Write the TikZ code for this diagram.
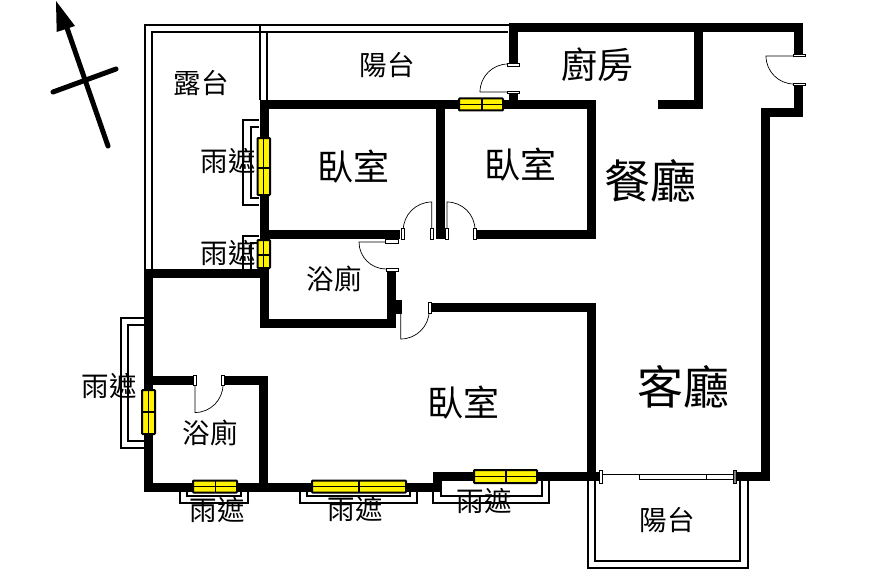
\documentclass[tikz,border=0pt]{standalone}
\usepackage{fontspec}
\newfontfamily\cjk{Noto Sans CJK TC}
\tikzset{
  wall/.style={line width=9pt, line cap=butt, miter limit=10},
  rail/.style={line width=2pt},
  thinline/.style={line width=.7pt},
  win/.style={fill=yellow, draw=black, line width=2pt, rounded corners=.8pt},
  windiv/.style={line width=1.2pt},
  jamb/.style={fill=white, draw=black, line width=.7pt},
  compass/.style={line width=5pt, line cap=round},
  big/.style={font=\cjk\fontsize{46}{46}\selectfont, inner sep=0pt},
  mid/.style={font=\cjk\fontsize{36}{36}\selectfont, inner sep=0pt},
  small/.style={font=\cjk\fontsize{27.5}{28}\selectfont, inner sep=0pt}
}
\begin{document}
\begin{tikzpicture}[x=1pt, y=-1pt]
\useasboundingbox (0,0) rectangle (887,578);
% balconies
\draw[rail] (510,25)--(145,25)--(145,270);
\draw[rail] (508,32)--(152,32)--(152,270);
\draw[rail] (260,25)--(260,100);
\draw[rail] (267,32)--(267,100);
\draw[rail] (588,481)--(588,568)--(748,568)--(748,481);
\draw[rail] (595,481)--(595,561)--(740,561)--(740,481);
% shades
\draw[rail] (259,120)--(243,120)--(243,205)--(259,205);
\draw[rail] (259,127)--(251,127)--(251,198)--(259,198);
\draw[rail] (259,236)--(243,236)--(243,270);
\draw[rail] (259,243)--(251,243)--(251,270);
\draw[rail] (144,318)--(121,318)--(121,448)--(144,448);
\draw[rail] (144,325)--(128,325)--(128,441)--(144,441);
\draw[rail] (180,490)--(180,503)--(248,503)--(248,490);
\draw[rail] (187,490)--(187,496)--(241,496)--(241,490);
\draw[rail] (300,490)--(300,503)--(417,503)--(417,490);
\draw[rail] (307,490)--(307,496)--(410,496)--(410,490);
\draw[rail] (433,490)--(433,503)--(549,503)--(549,481);
\draw[rail] (441,490)--(441,496)--(542,496)--(542,481);
% walls
\draw[wall] (513,65)--(513,28)--(798.5,28)--(798.5,55);
\draw[wall] (798.5,85)--(798.5,113)--(765.5,113)--(765.5,476.5)--(737,476.5);
\draw[wall] (658,104.5)--(698.5,104.5)--(698.5,28);
\draw[wall] (513,92)--(513,100);
\draw[wall] (264,104.5)--(591.5,104.5)--(591.5,234.5)--(475,234.5);
\draw[wall] (400,234.5)--(264,234.5);
\draw[wall] (440,104.5)--(440,239);
\draw[wall] (264,100)--(264,323)--(391.5,323)--(391.5,270);
\draw[wall] (430,307)--(591.5,307)--(591.5,476.5);
\draw[wall] (600,476.5)--(437.5,476.5)--(437.5,487)--(148.5,487)--(148.5,273)--(264,273);
\draw[wall] (148.5,380.5)--(194,380.5);
\draw[wall] (223,380.5)--(263.5,380.5)--(263.5,491);
% windows
\draw[win] (257.5,138) rectangle (270,195);
\draw[windiv] (263.7,138)--(263.7,195) (257.5,168)--(270,168);
\draw[win] (257.5,240) rectangle (270,268);
\draw[windiv] (263.7,240)--(263.7,268) (257.5,255)--(270,255);
\draw[win] (142,390) rectangle (155,434);
\draw[windiv] (148.5,390)--(148.5,434) (142,412)--(155,412);
\draw[win] (459,98.5) rectangle (503,110.5);
\draw[windiv] (459,104.5)--(503,104.5) (482,98.5)--(482,110.5);
\draw[win] (193,480.5) rectangle (237,492.5);
\draw[windiv] (193,486.5)--(237,486.5) (215.5,480.5)--(215.5,492.5);
\draw[win] (312,480.5) rectangle (406,492.5);
\draw[windiv] (312,486.5)--(406,486.5) (359,480.5)--(359,492.5);
\draw[win] (474,470) rectangle (537,483);
\draw[windiv] (474,476.5)--(537,476.5) (506,470)--(506,483);
% doors
\draw[thinline] (431.7,235)--(431.7,202) arc[start angle=-90, end angle=-180, radius=28.5];
\draw[thinline] (447,235)--(447,202) arc[start angle=-90, end angle=0, radius=28];
\draw[thinline] (397,242)--(359,242) arc[start angle=180, end angle=90, radius=27];
\draw[thinline] (400.7,307)--(400.7,339) arc[start angle=90, end angle=0, radius=28.5];
\draw[thinline] (195,385)--(195,412.5) arc[start angle=90, end angle=0, radius=28];
\draw[thinline] (510,92)--(480,92) arc[start angle=180, end angle=270, radius=28];
\draw[thinline] (795,56)--(766,56) arc[start angle=180, end angle=90, radius=28];
% jambs
\draw[jamb] (401.5,228) rectangle (404.5,239);
\draw[jamb] (430.2,228) rectangle (433.2,239);
\draw[jamb] (445.5,228) rectangle (448.5,239);
\draw[jamb] (473.5,228) rectangle (476.5,239);
\draw[jamb] (385,239.5) rectangle (398,243);
\draw[jamb] (386,268.5) rectangle (398,271);
\draw[jamb, fill=black] (396,300) rectangle (401.5,313);
\draw[jamb] (428.5,302) rectangle (431,313);
\draw[jamb] (193.5,375) rectangle (196.5,385);
\draw[jamb] (221.5,375) rectangle (224.5,385);
\draw[jamb] (507,63.5) rectangle (519,66);
\draw[jamb] (507,91) rectangle (519,93.5);
\draw[jamb] (793,54) rectangle (805,56.5);
\draw[jamb] (793,83) rectangle (805,85.5);
% sliding door
\draw[thinline] (601,474)--(733,474) (706,479)--(733,479);
\draw[thinline, fill=white] (639,474) rectangle (706,479);
\draw[jamb] (599.5,470) rectangle (602,483);
\draw[jamb, fill=gray] (733.5,470) rectangle (736.5,483);
% compass
\draw[compass] (108,146)--(67,28);
\fill (56,1)--(75,26)--(56.7,32)--cycle;
\draw[compass] (53,92)--(116,69);
% labels
\node[big] (dining) at (650,181) {餐廳};
\node[big] (living) at (683,387) {客廳};
\node[mid] (bedroomA) at (353,167) {臥室};
\node[mid] (bedroomB) at (520,165) {臥室};
\node[mid] (bedroomC) at (463,403) {臥室};
\node[mid] (kitchen) at (597,65) {廚房};
\node[small] (balconyA) at (387,65) {陽台};
\node[small] (balconyB) at (667,520) {陽台};
\node[small] (terrace) at (201,83) {露台};
\node[small] (bathA) at (334,279) {浴廁};
\node[small] (bathB) at (210,433) {浴廁};
\node[small] (shadeA) at (228,161) {雨遮};
\node[small] (shadeB) at (228,253) {雨遮};
\node[small] (shadeC) at (109,386) {雨遮};
\node[small] (shadeD) at (217,510) {雨遮};
\node[small] (shadeE) at (355,509) {雨遮};
\node[small] (shadeF) at (484,501) {雨遮};
\end{tikzpicture}
\end{document}
